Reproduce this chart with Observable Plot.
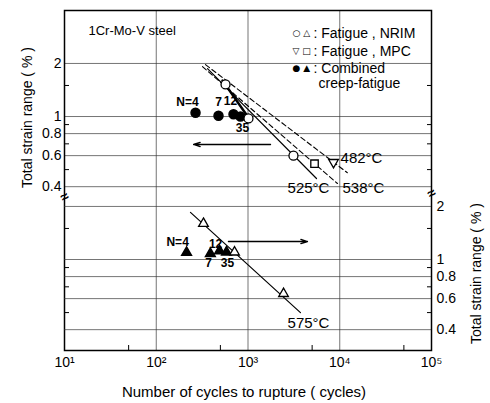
<!DOCTYPE html>
<html><head><meta charset="utf-8">
<script src="https://cdn.jsdelivr.net/npm/d3@7"></script>
<script src="https://cdn.jsdelivr.net/npm/@observablehq/plot@0.6"></script>
<style>
body{margin:0;background:#fff}
#wrap{position:relative;width:490px;height:403px}
#wrap svg{position:absolute;left:0;top:0}
</style></head><body><div id="wrap"></div>
<script>
// ---------- axes ----------
const xTickValues = [10, 100, 1000, 10000, 100000];
const xTickLabels = ["10¹", "10²", "10³", "10⁴", "10⁵"];
const xGridValues = [100, 1000, 10000];
const xMinorTicks = [50, 500, 5000, 50000];
const yTickValues = [2, 1, 0.8, 0.6, 0.4];
const yTickLabels = ["2", "1", "0.8", "0.6", "0.4"];
const yMinorTicks = [1.5, 0.9, 0.7, 0.5];

// ---------- upper panel (left axis) ----------
const nrimCircleN = [569, 1012, 3130];
const nrimCircleV = [1.52, 0.975, 0.60];
const mpcSquareN = [5310];
const mpcSquareV = [0.54];
const mpcTriDownN = [8550];
const mpcTriDownV = [0.55];
const combCircleN = [268, 477, 695, 828];
const combCircleV = [1.05, 1.01, 1.03, 1.0];
const line525N = [362, 5580];
const line525V = [1.87, 0.445];
const line538N = [319, 9440];
const line538V = [1.92, 0.417];
const line482N = [344, 12100];
const line482V = [1.97, 0.48];
const lineBoldN = [527, 1065];
const lineBoldV = [1.6, 0.95];
const arrowTopN = [1760, 255];
const arrowTopV = 0.694;
const topLabelText = ["N=4", "7", "12", "35"];
const topLabelN = [219, 477, 645, 871];
const topLabelV = [1.2, 1.2, 1.23, 0.855];
const tempTopText = ["482°C", "525°C", "538°C"];
const tempTopN = [10200, 4560, 18100];
const tempTopV = [0.578, 0.39, 0.39];
const tempTopAnchor = ["start", "middle", "middle"];

// ---------- lower panel (right axis) ----------
const nrimTriN = [327, 713, 2440];
const nrimTriV = [1.6, 1.1, 0.64];
const combTriN = [214, 389, 489, 583];
const combTriV = [1.095, 1.08, 1.12, 1.1];
const line575N = [236, 3730];
const line575V = [1.85, 0.50];
const arrowBotN = [612, 4450];
const arrowBotV = 1.265;
const botLabelText = ["N=4", "12", "7", "35"];
const botLabelN = [171, 443, 371, 598];
const botLabelV = [1.25, 1.23, 0.95, 0.95];
const tempBotText = ["575°C"];
const tempBotN = [4560];
const tempBotV = [0.434];

// ---------- texts ----------
const titleText = "1Cr-Mo-V steel";
const legendSymbols = ["○ △", "▽ □", "● ▲"];
const legendLabels = [": Fatigue , NRIM", ": Fatigue , MPC", ": Combined", "creep-fatigue"];
const xTitle = "Number of cycles to rupture ( cycles)";
const yTitle = "Total strain range ( % )";

// ---------- helpers ----------
const zip = (ns, vs) => ns.map((n, i) => ({n, v: Array.isArray(vs) ? vs[i] : vs}));
const triDown = {draw(ctx, size) {
  const y = Math.sqrt(size / (Math.sqrt(3) * 3));
  ctx.moveTo(0, y * 2); ctx.lineTo(-Math.sqrt(3) * y, -y); ctx.lineTo(Math.sqrt(3) * y, -y); ctx.closePath();
}};
const FONT = "'Liberation Sans','Arimo','Noto Sans',sans-serif";
const SYMFONT = "'DejaVu Sans',sans-serif";
const G = {stroke: "#333", strokeWidth: 0.8, strokeOpacity: 0.85};
const common = {
  width: 490, height: 403, marginLeft: 64, marginRight: 59, marginTop: 10, marginBottom: 53
};
const nearest = (vals, labels) => d => {
  let bi = 0, bd = Infinity;
  vals.forEach((v, i) => { const e = Math.abs(Math.log(v) - Math.log(d)); if (e < bd) { bd = e; bi = i; } });
  return labels[bi];
};
const xFmt = nearest(xTickValues, xTickLabels);
const yFmt = nearest(yTickValues, yTickLabels);
const blank = () => "";
const legendRowDy = [23, 41, 58, 73];

// ---------- chart A: upper panel ----------
const chartA = Plot.plot({
  ...common,
  style: {fontFamily: FONT, fontSize: "14px", background: "white"},
  x: {type: "log", domain: [10, 1e5]},
  y: {type: "log", domain: [0.04708, 3.994]},
  marks: [
    Plot.gridX(xGridValues, G),
    Plot.gridY(yTickValues, G),
    Plot.axisX(xTickValues, {ticks: Infinity, tickSize: 0, tickPadding: 7, tickFormat: xFmt, label: null, fontSize: 14}),
    Plot.axisX(xMinorTicks, {ticks: Infinity, tickSize: -5, tickFormat: blank, label: null}),
    Plot.axisY(yTickValues, {anchor: "left", ticks: Infinity, tickSize: 0, tickPadding: 3, tickFormat: yFmt, label: null, fontSize: 14}),
    Plot.axisY(yMinorTicks, {anchor: "left", ticks: Infinity, tickSize: -5, tickFormat: blank, label: null}),
    Plot.axisY(yMinorTicks, {anchor: "right", ticks: Infinity, tickSize: -5, tickFormat: blank, label: null}),
    Plot.frame({stroke: "black", strokeWidth: 1.5}),
    Plot.line(zip(line525N, line525V), {x: "n", y: "v", stroke: "black", strokeWidth: 1.2}),
    Plot.line(zip(lineBoldN, lineBoldV), {x: "n", y: "v", stroke: "black", strokeWidth: 2.4}),
    Plot.line(zip(line538N, line538V), {x: "n", y: "v", stroke: "black", strokeWidth: 1.1, strokeDasharray: "5,3"}),
    Plot.line(zip(line482N, line482V), {x: "n", y: "v", stroke: "black", strokeWidth: 1.1, strokeDasharray: "5,3"}),
    Plot.arrow([{x1: arrowTopN[0], x2: arrowTopN[1], y: arrowTopV}], {x1: "x1", x2: "x2", y1: "y", y2: "y", stroke: "black", strokeWidth: 1.3, headLength: 8, headAngle: 35}),
    Plot.dot(zip(combCircleN, combCircleV), {x: "n", y: "v", r: 4.5, fill: "black", stroke: "black"}),
    Plot.dot(zip(nrimCircleN, nrimCircleV), {x: "n", y: "v", r: 4.5, fill: "white", stroke: "black", strokeWidth: 1.3}),
    Plot.dot(zip(mpcSquareN, mpcSquareV), {x: "n", y: "v", r: 4.2, symbol: "square", fill: "white", stroke: "black", strokeWidth: 1.3}),
    Plot.dot(zip(mpcTriDownN, mpcTriDownV), {x: "n", y: "v", r: 3.6, symbol: triDown, fill: "white", stroke: "black", strokeWidth: 1.3}),
    Plot.text(topLabelText.map((t, i) => ({t, n: topLabelN[i], v: topLabelV[i]})), {x: "n", y: "v", text: "t", fontSize: 12, fontWeight: "bold"}),
    Plot.text(tempTopText.map((t, i) => ({t, n: tempTopN[i], v: tempTopV[i], a: tempTopAnchor[i]})).filter(d => d.a === "start"), {x: "n", y: "v", text: "t", textAnchor: "start", fontSize: 15}),
    Plot.text(tempTopText.map((t, i) => ({t, n: tempTopN[i], v: tempTopV[i], a: tempTopAnchor[i]})).filter(d => d.a === "middle"), {x: "n", y: "v", text: "t", fontSize: 15}),
    Plot.text([{v: 0.35}], {y: "v", frameAnchor: "left", text: () => "≈", textAnchor: "middle", fontSize: 14, fontWeight: "bold", rotate: -30}),
    Plot.text([titleText], {frameAnchor: "top-left", dx: 24, dy: 20, lineAnchor: "middle", textAnchor: "start", fontSize: 13}),
    ...legendSymbols.map((s, i) => Plot.text([s], {frameAnchor: "top-left", dx: 228, dy: legendRowDy[i], lineAnchor: "middle", textAnchor: "start", fontSize: 9, fontFamily: SYMFONT})),
    ...legendLabels.map((s, i) => Plot.text([s], {frameAnchor: "top-left", dx: i < 3 ? 249 : 254, dy: legendRowDy[i], lineAnchor: "middle", textAnchor: "start", fontSize: 14})),
    Plot.text([xTitle], {frameAnchor: "bottom", dx: -4, dy: 42, lineAnchor: "middle", textAnchor: "middle", fontSize: 15}),
    Plot.text([yTitle], {frameAnchor: "left", dx: -37, dy: -63, lineAnchor: "middle", textAnchor: "middle", rotate: -90, fontSize: 14})
  ]
});

// ---------- chart B: lower panel ----------
const chartB = Plot.plot({
  ...common,
  style: {fontFamily: FONT, fontSize: "14px", background: "transparent"},
  x: {type: "log", domain: [10, 1e5], axis: null},
  y: {type: "log", domain: [0.3047, 25.85]},
  marks: [
    Plot.gridY(yTickValues, G),
    Plot.axisY(yTickValues, {anchor: "right", ticks: Infinity, tickSize: 0, tickPadding: 5, tickFormat: yFmt, label: null, fontSize: 14}),
    Plot.axisY(yMinorTicks, {anchor: "right", ticks: Infinity, tickSize: -5, tickFormat: blank, label: null}),
    Plot.axisY(yMinorTicks, {anchor: "left", ticks: Infinity, tickSize: -5, tickFormat: blank, label: null}),
    Plot.line(zip(line575N, line575V), {x: "n", y: "v", stroke: "black", strokeWidth: 1.2}),
    Plot.arrow([{x1: arrowBotN[0], x2: arrowBotN[1], y: arrowBotV}], {x1: "x1", x2: "x2", y1: "y", y2: "y", stroke: "black", strokeWidth: 1.3, headLength: 8, headAngle: 35}),
    Plot.dot(zip(combTriN, combTriV), {x: "n", y: "v", r: 3.6, symbol: "triangle", fill: "black", stroke: "black"}),
    Plot.dot(zip(nrimTriN, nrimTriV), {x: "n", y: "v", r: 3.6, symbol: "triangle", fill: "white", stroke: "black", strokeWidth: 1.3}),
    Plot.text(botLabelText.map((t, i) => ({t, n: botLabelN[i], v: botLabelV[i]})), {x: "n", y: "v", text: "t", fontSize: 12, fontWeight: "bold"}),
    Plot.text(tempBotText.map((t, i) => ({t, n: tempBotN[i], v: tempBotV[i]})), {x: "n", y: "v", text: "t", fontSize: 15}),
    Plot.text([{v: 2.37}], {y: "v", frameAnchor: "right", text: () => "≈", textAnchor: "middle", fontSize: 14, fontWeight: "bold", rotate: -30}),
    Plot.text([yTitle], {frameAnchor: "right", dx: 45, dy: 93, lineAnchor: "middle", textAnchor: "middle", rotate: -90, fontSize: 14})
  ]
});

const wrap = document.getElementById("wrap");
wrap.appendChild(chartA);
wrap.appendChild(chartB);
</script></body></html>
